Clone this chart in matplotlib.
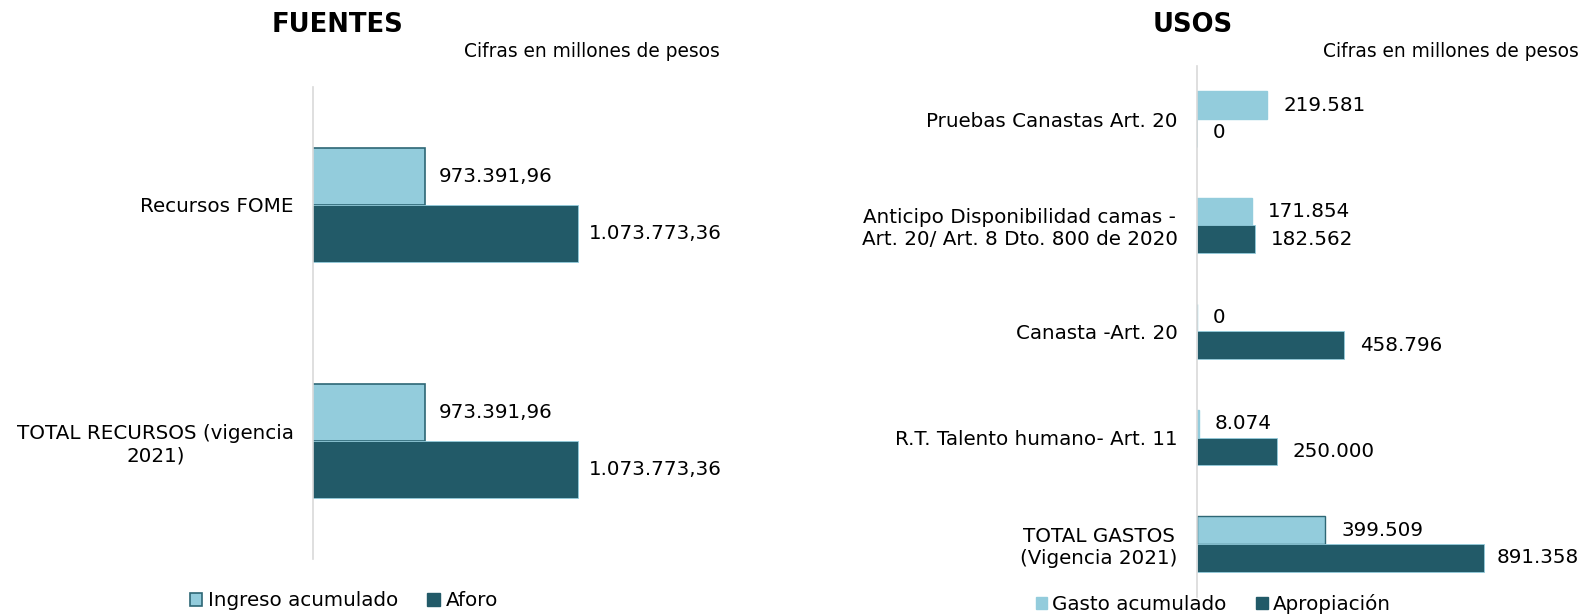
import matplotlib
matplotlib.use("Agg")
import matplotlib.pyplot as plt
from matplotlib.patches import Patch

plt.rcParams['font.family'] = ['DejaVu Sans']

# ---------------- data ----------------
fuentes_cats = ["Recursos FOME", "TOTAL RECURSOS (vigencia\n2021)"]
fuentes_ingreso = [973391.96, 973391.96]
fuentes_aforo = [1073773.36, 1073773.36]

usos_cats = ["Pruebas Canastas Art. 20",
             "Anticipo Disponibilidad camas -\nArt. 20/ Art. 8 Dto. 800 de 2020",
             "Canasta -Art. 20",
             "R.T. Talento humano- Art. 11",
             "TOTAL GASTOS\n(Vigencia 2021)"]
usos_gasto = [219581, 171854, 0, 8074, 399509]
usos_apropiacion = [0, 182562, 458796, 250000, 891358]

titles = ["FUENTES", "USOS"]
note = "Cifras en millones de pesos"
fuentes_legend = ["Ingreso acumulado", "Aforo"]
usos_legend = ["Gasto acumulado", "Apropiación"]

# ---------------- style ----------------
LIGHT = "#93CCDC"
DARK = "#225A68"
EDGE_DARK = "#2E6775"
AXIS_GRAY = "#D9D9D9"
W, H = 1579, 616
FS = 14.3

fig = plt.figure(figsize=(W / 100, H / 100), dpi=100)


def fx(px):
    return px / W


def fy(py):
    return 1 - py / H


def fmt_es(v, decimals=0):
    s = f"{v:,.{decimals}f}"
    return s.replace(",", "X").replace(".", ",").replace("X", ".")


def setup(ax):
    for s in ["top", "right", "bottom"]:
        ax.spines[s].set_visible(False)
    ax.spines["left"].set_color(AXIS_GRAY)
    ax.spines["left"].set_linewidth(1.2)
    ax.set_xticks([])
    ax.tick_params(axis="y", length=0, pad=13.5, labelsize=FS)
    for t in ax.get_yticklabels():
        t.set_multialignment("center")


def add_labels(ax, values, ys, texts, pad_px=15):
    renderer = fig.canvas.get_renderer()
    for v, y, s in zip(values, ys, texts):
        t = ax.annotate(s, xy=(v, y), xytext=(pad_px * 0.72, 0),
                        textcoords="offset points", va="center", ha="left",
                        fontsize=FS, color="black", annotation_clip=False)
        bb = t.get_window_extent(renderer)
        if bb.x1 > W:
            shift = bb.x1 - W
            t.set_position((pad_px * 0.72 - shift * 0.72, 0))


# ---------------- FUENTES ----------------
axL = fig.add_axes([fx(312.5), fy(559), fx(618.3) - fx(312.5), fy(87) - fy(559)])
nL = len(fuentes_cats)
yL = list(range(nL))
h = 0.24
axL.barh([y - h / 2 for y in yL], fuentes_ingreso, height=h, left=0,
         color=LIGHT, edgecolor=EDGE_DARK, linewidth=1.2)
axL.barh([y + h / 2 for y in yL], fuentes_aforo, height=h,
         color=DARK, edgecolor=LIGHT, linewidth=0.6)
axL.set_xlim(900000, 1100000)
axL.set_ylim(nL - 0.5, -0.5)
axL.set_yticks(yL)
axL.set_yticklabels(fuentes_cats)
setup(axL)
add_labels(axL, fuentes_ingreso, [y - h / 2 for y in yL],
           [fmt_es(v, 2) for v in fuentes_ingreso], pad_px=14)
add_labels(axL, fuentes_aforo, [y + h / 2 for y in yL],
           [fmt_es(v, 2) for v in fuentes_aforo], pad_px=11)

# ---------------- USOS ----------------
axR = fig.add_axes([fx(1196.5), fy(597), fx(1518.5) - fx(1196.5), fy(66) - fy(597)])
nR = len(usos_cats)
yR = list(range(nR))
h2 = 0.26
edges = [LIGHT] * (nR - 1) + [EDGE_DARK]
axR.barh([y - h2 / 2 for y in yR], usos_gasto, height=h2,
         color=LIGHT, edgecolor=edges, linewidth=1.0)
axR.barh([y + h2 / 2 for y in yR], usos_apropiacion, height=h2,
         color=DARK, edgecolor=LIGHT, linewidth=0.6)
axR.set_xlim(0, 1000000)
axR.set_ylim(nR - 0.5, -0.5)
axR.set_yticks(yR)
axR.set_yticklabels(usos_cats)
setup(axR)
add_labels(axR, usos_gasto, [y - h2 / 2 for y in yR],
           [fmt_es(v) for v in usos_gasto], pad_px=16)
add_labels(axR, usos_apropiacion, [y + h2 / 2 for y in yR],
           [fmt_es(v) for v in usos_apropiacion], pad_px=16)

# ---------------- titles / notes ----------------
fig.text(fx(338), fy(24.5), titles[0], ha="center", va="center",
         fontsize=18.6, fontweight="bold")
fig.text(fx(1193), fy(24.5), titles[1], ha="center", va="center",
         fontsize=18.6, fontweight="bold")
fig.text(fx(720), fy(57), note, ha="right", va="baseline", fontsize=13.4)
fig.text(fx(1579), fy(57), note, ha="right", va="baseline", fontsize=13.4)

# ---------------- legends ----------------
legL = [Patch(facecolor=LIGHT, edgecolor=EDGE_DARK, linewidth=1.2),
        Patch(facecolor=DARK, edgecolor=DARK)]
fig.legend(legL, fuentes_legend, loc="center", bbox_to_anchor=(fx(344), fy(601)),
           ncol=2, frameon=False, fontsize=FS, handlelength=0.62, handleheight=0.62,
           handletextpad=0.3, columnspacing=1.45, borderpad=0, borderaxespad=0)
legR = [Patch(facecolor=LIGHT, edgecolor=LIGHT),
        Patch(facecolor=DARK, edgecolor=DARK)]
fig.legend(legR, usos_legend, loc="center", bbox_to_anchor=(fx(1213), fy(604)),
           ncol=2, frameon=False, fontsize=FS, handlelength=0.6, handleheight=0.6,
           handletextpad=0.25, columnspacing=1.45, borderpad=0, borderaxespad=0)

fig.savefig("out.png", dpi=100)
